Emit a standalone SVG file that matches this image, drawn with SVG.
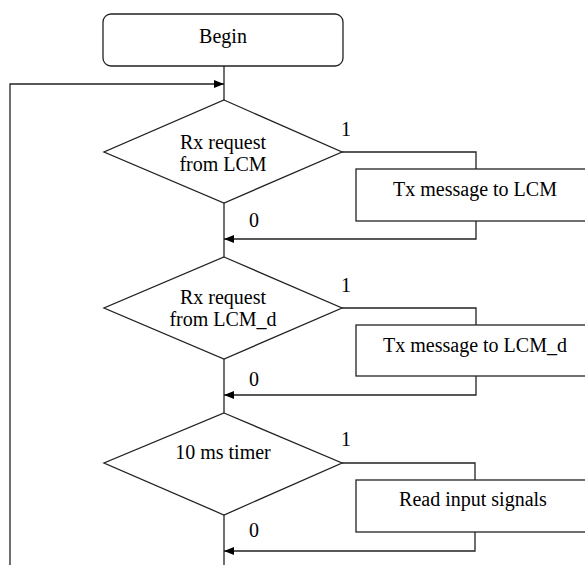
<svg xmlns="http://www.w3.org/2000/svg" width="585" height="565" viewBox="0 0 585 565">
<defs>
<marker id="arr" markerWidth="10" markerHeight="8" refX="10" refY="4" orient="auto" markerUnits="userSpaceOnUse">
<path d="M0,0 L10,4 L0,8 Z" fill="#000"/>
</marker>
<style>
.s{fill:#fff;stroke:#222;stroke-width:1.3}
.c{fill:none;stroke:#222;stroke-width:1.3}
text{font-family:"Liberation Serif","Times New Roman",serif;font-size:20px;fill:#000}
.t{text-anchor:middle}
</style>
</defs>
<rect width="585" height="565" fill="#fff"/>
<g id="connectors">
<path class="c" d="M224,66 V100"/>
<path class="c" d="M10,565 V84 H224" marker-end="url(#arr)"/>
<path class="c" d="M224,203 V257"/>
<path class="c" d="M342,152 H476 V169"/>
<path class="c" d="M476,221 V239 H224" marker-end="url(#arr)"/>
<path class="c" d="M224,359 V413"/>
<path class="c" d="M342,308 H476 V325"/>
<path class="c" d="M476,376 V395 H224" marker-end="url(#arr)"/>
<path class="c" d="M224,515 V565"/>
<path class="c" d="M342,463 H475 V480"/>
<path class="c" d="M475,532 V551 H224" marker-end="url(#arr)"/>
<text x="341" y="136">1</text>
<text x="249" y="227">0</text>
<text x="341" y="292">1</text>
<text x="249" y="386">0</text>
<text x="341" y="446">1</text>
<text x="249" y="537">0</text>
</g>
<g id="begin">
<rect class="s" x="103" y="14" width="240" height="52" rx="8"/>
<text class="t" x="223" y="43">Begin</text>
</g>
<g id="d1">
<polygon class="s" points="224,100 342,152 224,203 104,152"/>
<text class="t" x="223" y="149">Rx request</text>
<text class="t" x="223" y="171">from LCM</text>
</g>
<g id="b1">
<rect class="s" x="356" y="169" width="240" height="52"/>
<text class="t" x="475" y="196">Tx message to LCM</text>
</g>
<g id="d2">
<polygon class="s" points="224,257 342,308 224,359 104,308"/>
<text class="t" x="223" y="304">Rx request</text>
<text class="t" x="223" y="326">from LCM_d</text>
</g>
<g id="b2">
<rect class="s" x="356" y="325" width="240" height="51"/>
<text class="t" x="475" y="352">Tx message to LCM_d</text>
</g>
<g id="d3">
<polygon class="s" points="224,413 342,463 224,515 104,463"/>
<text class="t" x="223" y="459">10 ms timer</text>
</g>
<g id="b3">
<rect class="s" x="356" y="480" width="240" height="52"/>
<text class="t" x="473" y="506">Read input signals</text>
</g>
</svg>
